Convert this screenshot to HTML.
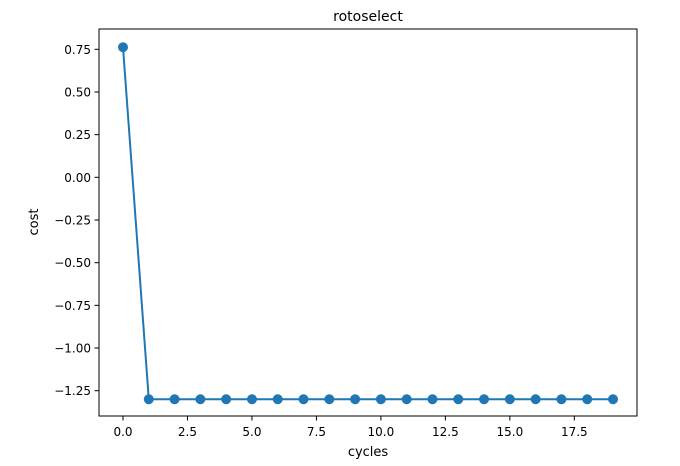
<!DOCTYPE html>
<html><head><meta charset="utf-8"><style>
body{margin:0;background:#fff}
svg{display:block;font-family:"DejaVu Sans","Liberation Sans",sans-serif}
</style></head><body>
<svg id="chart" width="680" height="466" viewBox="0 0 680 466">
<rect width="680" height="466" fill="#fff"/>
<text x="368" y="21" text-anchor="middle" font-size="14">rotoselect</text>
<g id="axes"></g>
<rect x="99" y="29" width="538" height="387" fill="none" stroke="#000" stroke-width="1"/>
<text x="368" y="456" text-anchor="middle" font-size="13">cycles</text>
<text x="0" y="0" transform="translate(38,222) rotate(-90)" text-anchor="middle" font-size="13">cost</text>
</svg>
<script>
const cycles=[0,1,2,3,4,5,6,7,8,9,10,11,12,13,14,15,16,17,18,19];
const cost=[0.762,-1.30,-1.30,-1.30,-1.30,-1.30,-1.30,-1.30,-1.30,-1.30,-1.30,-1.30,-1.30,-1.30,-1.30,-1.30,-1.30,-1.30,-1.30,-1.30];
const xTicks=[0,2.5,5,7.5,10,12.5,15,17.5];
const xTickLabels=["0.0","2.5","5.0","7.5","10.0","12.5","15.0","17.5"];
const yTicks=[0.75,0.5,0.25,0,-0.25,-0.5,-0.75,-1,-1.25];
const yTickLabels=["0.75","0.50","0.25","0.00","−0.25","−0.50","−0.75","−1.00","−1.25"];
const X=v=>123+v*25.79;
const Y=v=>49.3+(0.75-v)*170.7;
const NS="http://www.w3.org/2000/svg";
const g=document.getElementById('axes');
function mk(t,a){const e=document.createElementNS(NS,t);for(const k in a)e.setAttribute(k,a[k]);g.appendChild(e);return e;}
xTicks.forEach((v,i)=>{
 const l=mk('line',{x1:X(v),x2:X(v),y1:416,y2:420.5,stroke:'#000'});
 
 
 const t=mk('text',{x:X(v),y:436,'text-anchor':'middle','font-size':'12'});t.textContent=xTickLabels[i];
 
 
});
yTicks.forEach((v,i)=>{
 const l=mk('line',{x1:94.5,x2:99,y1:Y(v),y2:Y(v),stroke:'#000'});
 
 
 const t=mk('text',{x:91,y:Y(v)+4.5,'text-anchor':'end','font-size':'12'});t.textContent=yTickLabels[i];
 
 
});
const p=mk('polyline',{points:cycles.map((c,i)=>X(c)+','+Y(cost[i])).join(' '),fill:'none',stroke:'#1f77b4','stroke-width':'2'});


cycles.forEach((c,i)=>{
 const m=mk('circle',{cx:X(c),cy:Y(cost[i]),r:5,fill:'#1f77b4'});
 
 
});
</script>
</body></html>
